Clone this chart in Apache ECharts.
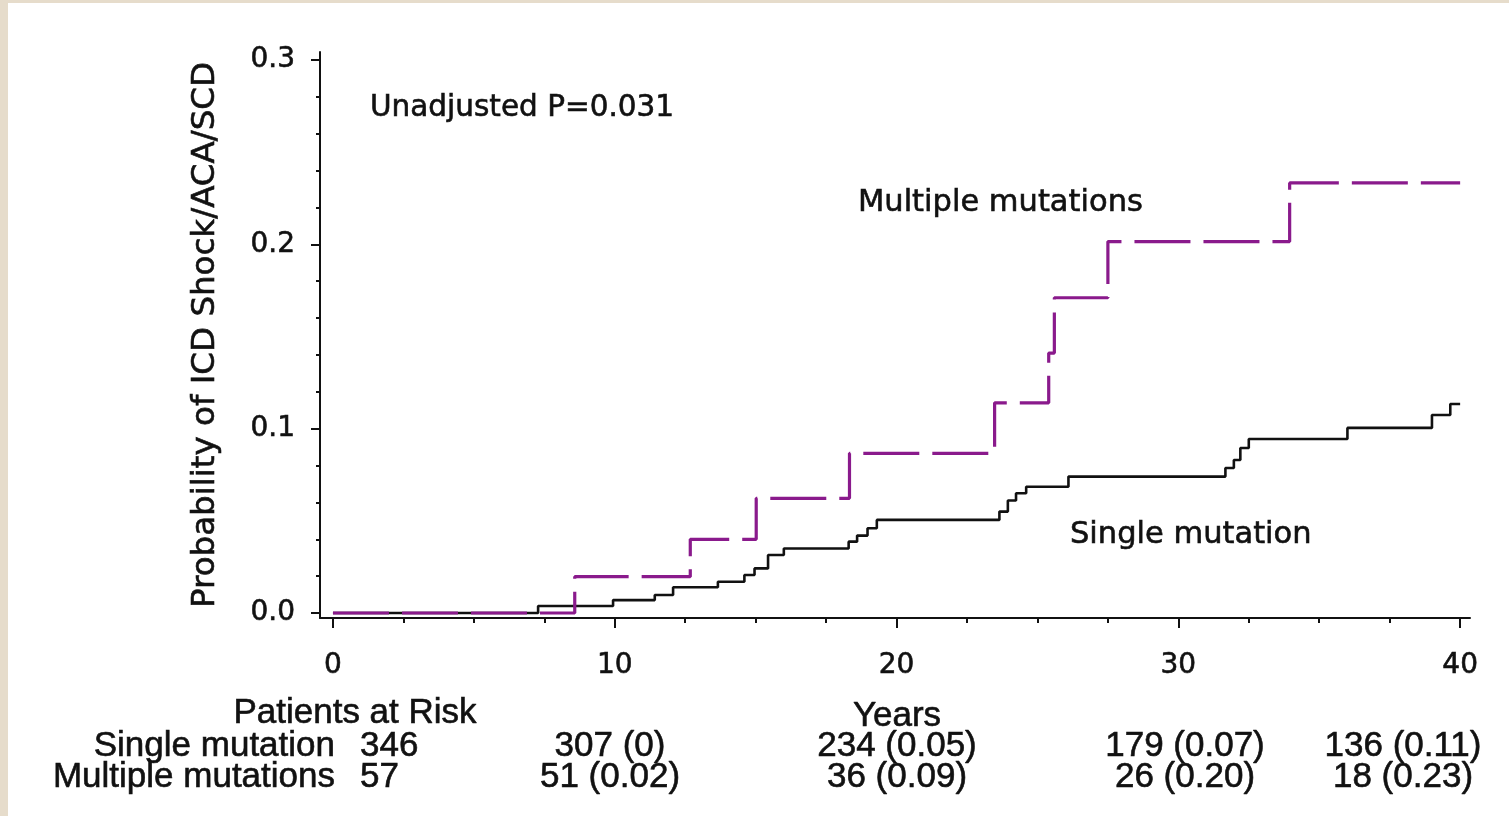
<!DOCTYPE html>
<html>
<head>
<meta charset="utf-8">
<script src="https://cdn.jsdelivr.net/npm/echarts@6/dist/echarts.min.js"></script>
<style>
  html, body { margin: 0; padding: 0; background: #e6dccb; }
  #panel { position: absolute; left: 8px; top: 3px; width: 1501px; height: 813px; background: #fff; }
  #app { position: absolute; left: 0; top: 0; width: 1509px; height: 816px; }
</style>
</head>
<body>
<div id="panel"></div>
<div id="app"></div>
<script>
// Kaplan-Meier step data (years, cumulative probability)
const singleYears = [0, 7.28, 9.94, 11.42, 12.07, 13.66, 14.6, 14.96, 15.44, 16.0, 18.3, 18.6, 18.97, 19.3, 23.65, 23.95, 24.24, 24.6, 26.1, 31.67, 31.97, 32.2, 32.5, 36.0, 39.0, 39.65, 40.0];
const singleProb = [0, 0.0038, 0.007, 0.0098, 0.014, 0.017, 0.0206, 0.0242, 0.0315, 0.035, 0.0387, 0.042, 0.046, 0.0505, 0.055, 0.061, 0.065, 0.0685, 0.074, 0.0787, 0.083, 0.0895, 0.0944, 0.1004, 0.1074, 0.1134, 0.1134];

const multipleYears = [0, 8.58, 12.68, 15.02, 18.33, 23.48, 25.4, 25.6, 27.5, 33.95, 40.0];
const multipleProb = [0, 0.0197, 0.04, 0.0622, 0.0866, 0.114, 0.141, 0.171, 0.2015, 0.2333, 0.2333];

const xTicks = [0, 10, 20, 30, 40];
const xMinorTicks = [2.5, 5, 7.5, 12.5, 15, 17.5, 22.5, 25, 27.5, 32.5, 35, 37.5];
const yTicks = [0, 0.1, 0.2, 0.3];
const yMinorTicks = [0.02, 0.04, 0.06, 0.08, 0.12, 0.14, 0.16, 0.18, 0.22, 0.24, 0.26, 0.28];

// patients at risk table
const riskHeader = "Patients at Risk";
const riskRowNames = ["Single mutation", "Multiple mutations"];
const riskSingle = ["346", "307 (0)", "234 (0.05)", "179 (0.07)", "136 (0.11)"];
const riskMultiple = ["57", "51 (0.02)", "36 (0.09)", "26 (0.20)", "18 (0.23)"];

const annotP = "Unadjusted P=0.031";
const labelMultiple = "Multiple mutations";
const labelSingle = "Single mutation";

const riskColX = [360, 610, 897, 1185, 1403];
const riskRowY = [746, 777];

const ink = "#111";
const purple = "#8a1a8c";
const tickFont = "DejaVu Sans";
const noteFont = "30.5px 'DejaVu Sans'";
const tableFont = "35px 'Liberation Sans'";

const dom = document.getElementById("app");
const myChart = echarts.init(dom);

function txt(extra, style) {
  return Object.assign({ type: "text", silent: true }, extra, {
    style: Object.assign({ fill: ink, stroke: ink, lineWidth: 0.6 }, style)
  });
}

const graphics = [
  txt({ x: 370, y: 108 }, { text: annotP, font: "29.5px 'DejaVu Sans'", verticalAlign: "middle" }),
  txt({ x: 858, y: 203 }, { text: labelMultiple, font: noteFont, verticalAlign: "middle" }),
  txt({ x: 1070, y: 535 }, { text: labelSingle, font: noteFont, verticalAlign: "middle" }),
  txt({ x: 355, y: 713 }, { text: riskHeader, font: tableFont, align: "center", verticalAlign: "middle" }),
  txt({ x: 897, y: 716 }, { text: "Years", font: tableFont, align: "center", verticalAlign: "middle" })
];

riskRowNames.forEach((name, r) => {
  graphics.push(txt({ x: 335, y: riskRowY[r] }, { text: name, font: tableFont, align: "right", verticalAlign: "middle" }));
  const vals = r === 0 ? riskSingle : riskMultiple;
  vals.forEach((v, i) => {
    graphics.push(txt({ x: riskColX[i], y: riskRowY[r] }, {
      text: v,
      font: tableFont,
      align: i === 0 ? "left" : "center",
      verticalAlign: "middle"
    }));
  });
});

const labelStyle = {
  fontSize: 28,
  fontFamily: tickFont,
  color: ink,
  textBorderColor: ink,
  textBorderWidth: 0.6
};

myChart.setOption({
  animation: false,
  backgroundColor: "transparent",
  grid: { left: 320, right: 39, top: 52, bottom: 198, containLabel: false },
  xAxis: [
    {
      type: "value",
      min: -0.46,
      max: 40.35,
      splitLine: { show: false },
      axisLine: { show: true, onZero: false, lineStyle: { color: ink, width: 2 } },
      axisTick: { show: true, customValues: xTicks, length: 10, lineStyle: { color: ink, width: 2 } },
      axisLabel: Object.assign({ customValues: xTicks, margin: 34 }, labelStyle)
    },
    {
      type: "value",
      position: "bottom",
      min: -0.46,
      max: 40.35,
      splitLine: { show: false },
      axisLine: { show: false, onZero: false },
      axisTick: { show: true, customValues: xMinorTicks, length: 5, lineStyle: { color: ink, width: 2 } },
      axisLabel: { show: false }
    }
  ],
  yAxis: [
    {
      type: "value",
      min: -0.0027,
      max: 0.3043,
      splitLine: { show: false },
      axisLine: { show: true, onZero: false, lineStyle: { color: ink, width: 2 } },
      axisTick: { show: true, customValues: yTicks, length: 9, lineStyle: { color: ink, width: 2 } },
      axisLabel: Object.assign({
        customValues: yTicks,
        margin: 25,
        formatter: (v) => v.toFixed(1)
      }, labelStyle),
      name: "Probability of ICD Shock/ACA/SCD",
      nameLocation: "middle",
      nameRotate: 90,
      nameGap: 98,
      nameTextStyle: { fontSize: 32.5, fontFamily: tickFont, color: ink, textBorderColor: ink, textBorderWidth: 0.6 }
    },
    {
      type: "value",
      position: "left",
      min: -0.0027,
      max: 0.3043,
      splitLine: { show: false },
      axisLine: { show: false, onZero: false },
      axisTick: { show: true, customValues: yMinorTicks, length: 4, lineStyle: { color: ink, width: 2 } },
      axisLabel: { show: false }
    }
  ],
  graphic: graphics,
  series: [
    {
      name: "Single mutation",
      type: "line",
      step: "end",
      symbol: "none",
      z: 2,
      lineStyle: { color: ink, width: 2.6 },
      data: singleYears.map((t, i) => [t, singleProb[i]])
    },
    {
      name: "Multiple mutations",
      type: "line",
      step: "end",
      symbol: "none",
      z: 3,
      lineStyle: { color: purple, width: 3.2, type: [56, 13] },
      data: multipleYears.map((t, i) => [t, multipleProb[i]])
    }
  ]
});
</script>
</body>
</html>
